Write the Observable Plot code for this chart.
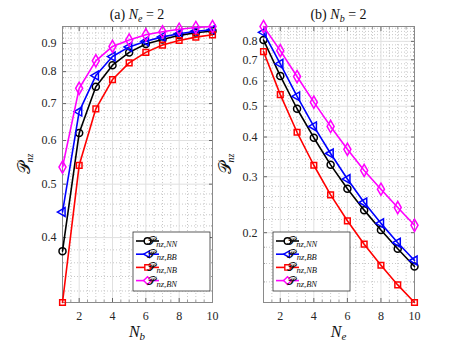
<!DOCTYPE html>
<html><head><meta charset="utf-8">
<script src="https://cdn.jsdelivr.net/npm/d3@7"></script>
<script src="https://cdn.jsdelivr.net/npm/@observablehq/plot@0.6"></script>
<style>
body{margin:0;background:#fff;}
#wrap{display:flex;width:457px;height:343px;overflow:hidden;}
#wrap svg{display:block;overflow:visible;font-family:"Liberation Serif","DejaVu Serif",serif !important;}
#wrap svg text{font-family:"Liberation Serif","DejaVu Serif",serif;}
</style></head><body><div id="wrap"></div>
<script>
// x values (N_b for panel a, N_e for panel b)
const N = [1,2,3,4,5,6,7,8,9,10];
const xTicks = [2,4,6,8,10];
// Panel (a) N_e = 2
const aNN = [0.378,0.619,0.751,0.822,0.867,0.898,0.915,0.931,0.941,0.948];
const aBB = [0.445,0.677,0.787,0.852,0.887,0.908,0.925,0.937,0.947,0.953];
const aNB = [0.305,0.541,0.685,0.774,0.830,0.867,0.894,0.911,0.924,0.933];
const aBN = [0.537,0.746,0.837,0.889,0.913,0.933,0.945,0.955,0.962,0.966];
// Panel (b) N_b = 2
const bNN = [0.808,0.623,0.491,0.398,0.327,0.275,0.2355,0.204,0.178,0.1565];
const bBB = [0.854,0.680,0.537,0.432,0.355,0.295,0.249,0.214,0.186,0.1635];
const bNB = [0.743,0.544,0.414,0.326,0.263,0.218,0.184,0.158,0.137,0.1206];
const bBN = [0.891,0.748,0.620,0.515,0.432,0.366,0.314,0.274,0.240,0.211];
const yTicksA = [0.4,0.5,0.6,0.7,0.8,0.9];
const yTicksB = [0.2,0.3,0.4,0.5,0.6,0.7,0.8];
const seriesNames = ["NN","BB","NB","BN"];
const colors = ["#000000","#0000ff","#ff0000","#ff00ff"];
const symbols = ["circle","triangle","square","diamond"];
const symR = [3.5,3.3,3.2,3.7];
const d3Sym = [d3.symbolCircle, d3.symbolTriangle2, d3.symbolSquare, d3.symbolDiamond2];

const FONT = "Liberation Serif";

function panel({series, yTicks, width, ml, mr, titlePre, titleSub, titleVal, xSub, legendX}) {
  const height = 343, mt = 26, mb = 41;
  const rows = series.flatMap((vals, i) => vals.map((v, j) => ({n: N[j], v, s: i})));
  const [lo, hi] = d3.extent(rows, d => d.v);
  const minorY = d3.range(Math.ceil(lo*50 - 1e-9), Math.floor(hi*50 + 1e-9) + 1).map(k => k/50)
    .filter(v => !yTicks.some(t => Math.abs(t - v) < 1e-9));
  const minorX = d3.range(1, 10.01, 0.5).filter(v => !xTicks.includes(v));
  const blank = () => "";
  const ax = {label:null, fontFamily:FONT};
  const marks = [
    Plot.gridX(minorX, {stroke:"#c8c8c8", strokeOpacity:1, strokeDasharray:"1,2"}),
    Plot.gridY(minorY, {stroke:"#c8c8c8", strokeOpacity:1, strokeDasharray:"1,2"}),
    Plot.gridX(xTicks, {stroke:"#e0e0e0", strokeOpacity:1}),
    Plot.gridY(yTicks, {stroke:"#e0e0e0", strokeOpacity:1}),
    Plot.axisX(xTicks, {...ax, anchor:"bottom", tickSize:-4, tickPadding:13, stroke:"#666", fill:"#262626", fontSize:12}),
    Plot.axisX(xTicks, {...ax, anchor:"top", tickSize:-4, tickFormat:blank, stroke:"#666"}),
    Plot.axisX(minorX, {...ax, anchor:"bottom", tickSize:-2, tickFormat:blank, stroke:"#999"}),
    Plot.axisX(minorX, {...ax, anchor:"top", tickSize:-2, tickFormat:blank, stroke:"#999"}),
    Plot.axisY(yTicks, {...ax, anchor:"left", tickSize:-4, tickPadding:10, tickFormat:d3.format(".1f"), stroke:"#666", fill:"#262626", fontSize:12}),
    Plot.axisY(yTicks, {...ax, anchor:"right", tickSize:-4, tickFormat:blank, stroke:"#666"}),
    Plot.axisY(minorY, {...ax, anchor:"left", tickSize:-2, tickFormat:blank, stroke:"#999"}),
    Plot.axisY(minorY, {...ax, anchor:"right", tickSize:-2, tickFormat:blank, stroke:"#999"}),
    Plot.frame({stroke:"#8a8a8a", strokeWidth:1})
  ];
  series.forEach((vals, i) => {
    const data = rows.filter(d => d.s === i);
    marks.push(Plot.line(data, {x:"n", y:"v", stroke:colors[i], strokeWidth:1.6}));
    marks.push(Plot.dot(data, {x:"n", y:"v", symbol:symbols[i], stroke:colors[i], r:symR[i], strokeWidth:1.5, fill:"none", rotate: i === 1 ? -90 : 0}));
  });
  const svg = Plot.plot({
    width, height, marginLeft: ml, marginRight: mr, marginTop: mt, marginBottom: mb,
    style: {fontFamily: FONT, fontSize: "12px", background: "#fff", overflow: "visible"},
    x: {domain: [1, 10]},
    y: {type: "log", domain: [lo, hi]},
    marks
  });
  const s = d3.select(svg);
  const cx = ml + (width - ml - mr) / 2;
  // title
  const t = s.append("text").attr("x", cx).attr("y", 19).attr("text-anchor", "middle")
    .attr("font-family", FONT).attr("font-size", 14).attr("fill", "#111");
  t.append("tspan").text(titlePre + " ");
  t.append("tspan").attr("font-style", "italic").text("N");
  t.append("tspan").attr("font-style", "italic").attr("font-size", 10).attr("dy", 3).text(titleSub);
  t.append("tspan").attr("dy", -3).text(" = " + titleVal);
  // x label
  const xl = s.append("text").attr("x", cx).attr("y", 337).attr("text-anchor", "middle")
    .attr("font-family", FONT).attr("font-size", 16).attr("fill", "#111");
  xl.append("tspan").attr("font-style", "italic").text("N");
  xl.append("tspan").attr("font-style", "italic").attr("font-size", 11).attr("dy", 3).text(xSub);
  // y label
  const yx = ml - 32, yy = mt + (height - mt - mb) / 2;
  const yl = s.append("text").attr("transform", `translate(${yx},${yy}) rotate(-90)`).attr("text-anchor", "middle")
    .attr("font-family", FONT).attr("font-size", 17).attr("fill", "#111");
  yl.append("tspan").text("𝒫");
  yl.append("tspan").attr("font-style", "italic").attr("font-size", 10).attr("dy", 3).text("nz");
  // legend
  const lx = legendX, ly = 232, lw = 77, lh = 59;
  const g = s.append("g");
  g.append("rect").attr("x", lx).attr("y", ly).attr("width", lw).attr("height", lh)
    .attr("fill", "#fff").attr("stroke", "#333").attr("stroke-width", 0.8);
  seriesNames.forEach((nm, i) => {
    const ry = ly + 9 + i * 13.2;
    g.append("line").attr("x1", lx + 3).attr("x2", lx + 26).attr("y1", ry).attr("y2", ry)
      .attr("stroke", colors[i]).attr("stroke-width", 1.6);
    g.append("path").attr("d", d3.symbol(d3Sym[i], Math.PI * symR[i] * symR[i] * 0.9)())
      .attr("transform", `translate(${lx + 14.5},${ry}) rotate(${i === 1 ? -90 : 0})`)
      .attr("fill", "#fff").attr("stroke", colors[i]).attr("stroke-width", 1.4);
    const tx = g.append("text").attr("x", lx + 29).attr("y", ry + 4)
      .attr("font-family", FONT).attr("font-size", 12).attr("fill", "#111");
    tx.append("tspan").text("𝒫");
    tx.append("tspan").attr("font-style", "italic").attr("font-size", 8.5).attr("dy", 2).attr("dx", 0.5).text("nz," + nm);
  });
  return svg;
}

const wrap = document.getElementById("wrap");
wrap.appendChild(panel({series:[aNN,aBB,aNB,aBN], yTicks:yTicksA, width:228, ml:62, mr:16,
  titlePre:"(a)", titleSub:"e", titleVal:"2", xSub:"b", legendX:133}));
wrap.appendChild(panel({series:[bNN,bBB,bNB,bBN], yTicks:yTicksB, width:229, ml:35, mr:43,
  titlePre:"(b)", titleSub:"b", titleVal:"2", xSub:"e", legendX:45}));
</script></body></html>
